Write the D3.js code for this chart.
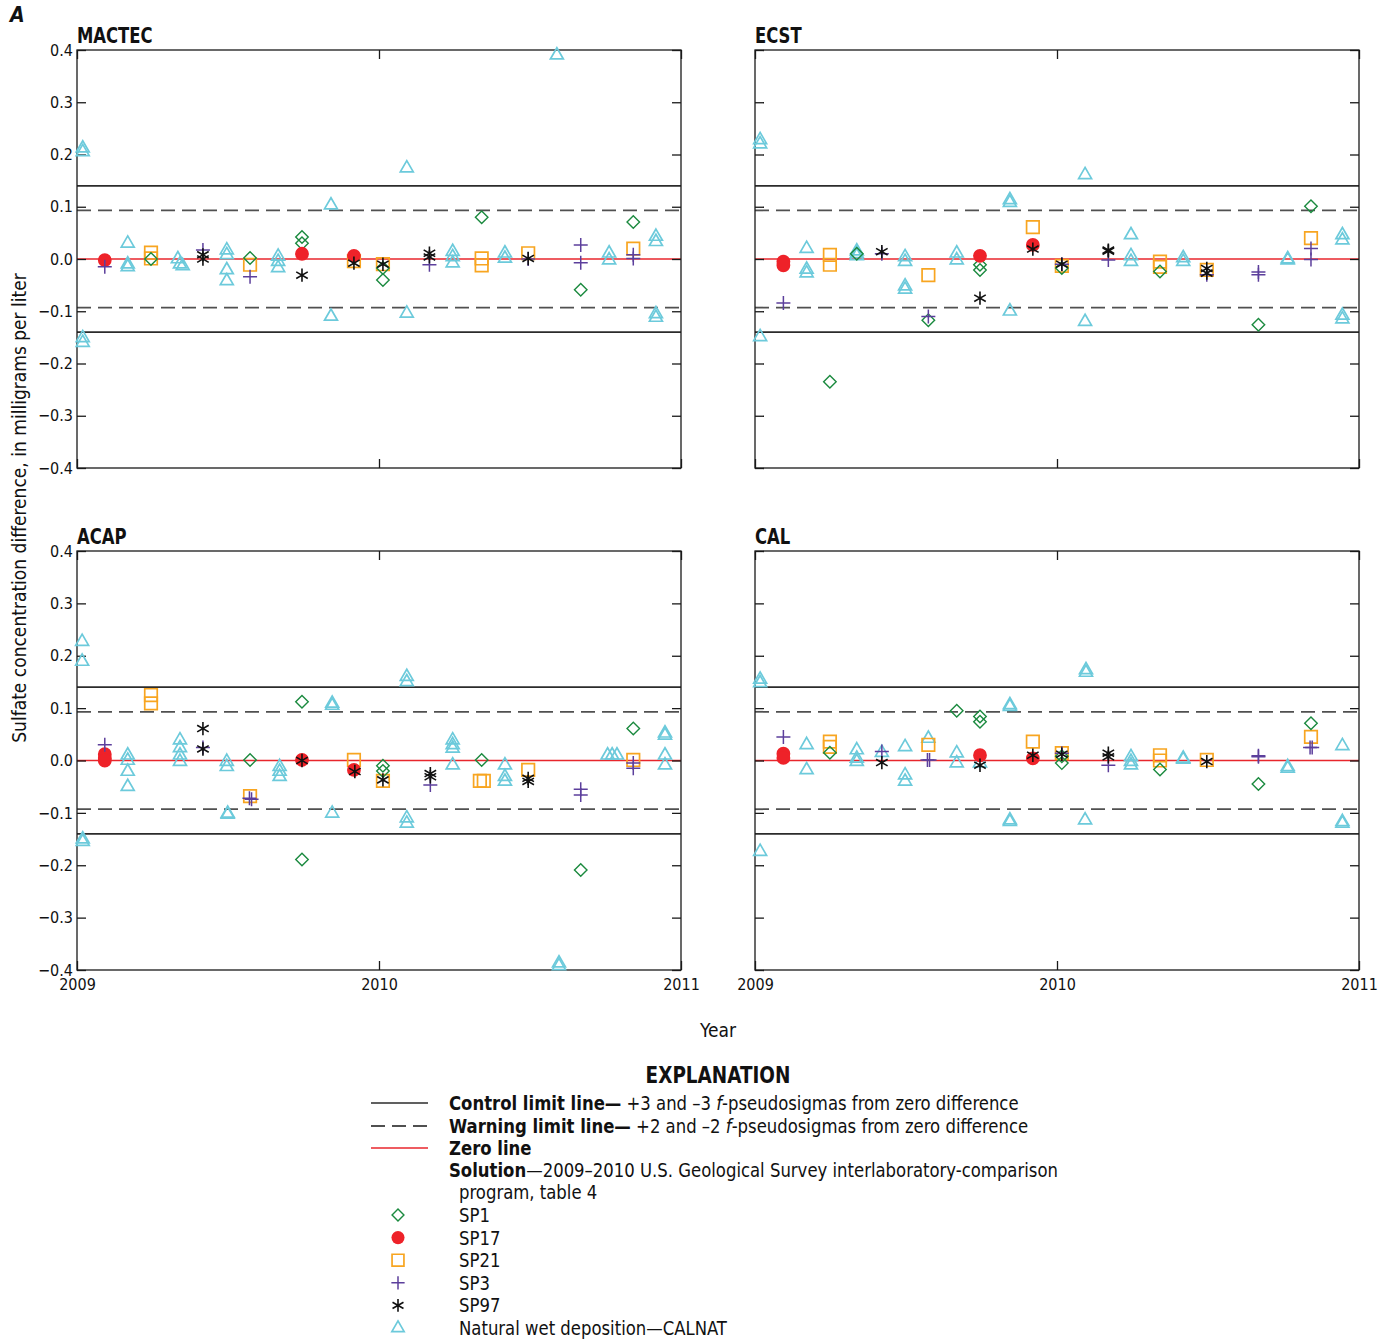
<!DOCTYPE html>
<html><head><meta charset="utf-8">
<script src="https://cdn.jsdelivr.net/npm/d3@7"></script>
<style>body{margin:0;background:#fff}svg{display:block}</style>
</head><body><svg id="c" width="1389" height="1342"></svg>
<script>
// ---------------- DATA ----------------
const panelNames = ["MACTEC", "ECST", "ACAP", "CAL"];
const xTickValues = [2009, 2010, 2011];
const yTickValues = [-0.4, -0.3, -0.2, -0.1, 0, 0.1, 0.2, 0.3, 0.4];
const controlLimit = 0.14;
const warningLimit = 0.093;
const seriesNames = ["SP1", "SP17", "SP21", "SP3", "SP97", "CALNAT"];
const legendLabels = ["SP1", "SP17", "SP21", "SP3", "SP97", "Natural wet deposition\u2014CALNAT"];

// each series: [MACTEC, ECST, ACAP, CAL] lists of [decimal year, difference]
const SP1 = [
  [[2009.245,0.0],[2009.573,0.002],[2009.745,0.042],[2009.745,0.03],[2010.013,-0.017],[2010.013,-0.04],[2010.34,0.08],[2010.668,-0.059],[2010.842,0.071]],
  [[2009.248,-0.235],[2009.337,0.01],[2009.574,-0.117],[2009.745,-0.011],[2009.745,-0.021],[2010.016,-0.017],[2010.341,-0.024],[2010.667,-0.126],[2010.841,0.101]],
  [[2009.573,0.001],[2009.745,0.112],[2009.745,-0.189],[2010.013,-0.01],[2010.013,-0.02],[2010.34,0.001],[2010.668,-0.209],[2010.842,0.061]],
  [[2009.248,0.015],[2009.668,0.095],[2009.745,0.084],[2009.745,0.074],[2010.016,-0.005],[2010.016,0.008],[2010.341,-0.017],[2010.667,-0.045],[2010.841,0.071]]
];
const SP17 = [
  [[2009.092,-0.002],[2009.745,0.01],[2009.917,0.006]],
  [[2009.094,-0.005],[2009.094,-0.012],[2009.745,0.006],[2009.92,0.027]],
  [[2009.092,0.012],[2009.092,0.005],[2009.092,0.0],[2009.745,0.001],[2009.917,-0.018]],
  [[2009.094,0.013],[2009.094,0.005],[2009.745,0.01],[2009.92,0.004]]
];
const SP21 = [
  [[2009.245,0.012],[2009.245,0.001],[2009.573,-0.011],[2009.917,-0.004],[2010.013,-0.01],[2010.34,0.001],[2010.34,-0.012],[2010.494,0.011],[2010.842,0.02]],
  [[2009.248,0.008],[2009.248,-0.011],[2009.574,-0.031],[2009.92,0.061],[2010.016,-0.013],[2010.341,-0.005],[2010.341,-0.015],[2010.496,-0.021],[2010.841,0.04]],
  [[2009.245,0.125],[2009.245,0.109],[2009.573,-0.068],[2009.917,0.001],[2010.013,-0.039],[2010.334,-0.039],[2010.347,-0.039],[2010.494,-0.018],[2010.842,0.001]],
  [[2009.248,0.036],[2009.248,0.026],[2009.574,0.03],[2009.92,0.036],[2010.016,0.014],[2010.341,0.01],[2010.341,0.0],[2010.496,0.001],[2010.841,0.045]]
];
const SP3 = [
  [[2009.092,-0.015],[2009.417,0.017],[2009.573,-0.034],[2010.167,-0.011],[2010.494,0.0],[2010.668,0.027],[2010.668,-0.007],[2010.842,0.008],[2010.842,0.001]],
  [[2009.094,-0.084],[2009.42,0.01],[2009.574,-0.11],[2010.016,-0.01],[2010.17,-0.002],[2010.496,-0.03],[2010.667,-0.025],[2010.667,-0.03],[2010.841,0.02],[2010.841,-0.001]],
  [[2009.092,0.03],[2009.417,0.025],[2009.571,-0.072],[2009.578,-0.074],[2010.17,-0.047],[2010.668,-0.055],[2010.668,-0.066],[2010.842,-0.005],[2010.842,-0.015]],
  [[2009.094,0.045],[2009.42,0.017],[2009.571,0.001],[2009.578,0.001],[2010.016,0.014],[2010.17,-0.009],[2010.667,0.009],[2010.667,0.007],[2010.838,0.025],[2010.845,0.025]]
];
const SP97 = [
  [[2009.417,0.008],[2009.417,0.0],[2009.745,-0.031],[2009.917,-0.008],[2010.013,-0.01],[2010.167,0.011],[2010.167,0.004],[2010.494,0.001]],
  [[2009.42,0.014],[2009.745,-0.075],[2009.92,0.019],[2010.016,-0.01],[2010.17,0.017],[2010.17,0.015],[2010.496,-0.018],[2010.496,-0.027]],
  [[2009.417,0.061],[2009.417,0.022],[2009.745,0.0],[2009.92,-0.021],[2010.013,-0.037],[2010.17,-0.025],[2010.17,-0.031],[2010.494,-0.034],[2010.494,-0.04]],
  [[2009.42,-0.004],[2009.745,-0.009],[2009.92,0.01],[2010.016,0.012],[2010.17,0.014],[2010.17,0.007],[2010.496,-0.002]]
];
const CALNAT = [
  [[2009.019,0.212],[2009.019,0.205],[2009.019,-0.151],[2009.019,-0.16],[2009.168,0.03],[2009.168,-0.01],[2009.168,-0.015],[2009.334,0.0],[2009.341,-0.01],[2009.35,-0.013],[2009.496,0.017],[2009.496,0.008],[2009.496,-0.021],[2009.496,-0.042],[2009.666,0.005],[2009.666,-0.005],[2009.666,-0.017],[2009.841,0.103],[2009.841,-0.11],[2010.092,0.174],[2010.092,-0.104],[2010.244,0.014],[2010.244,0.004],[2010.244,-0.008],[2010.417,0.011],[2010.417,0.001],[2010.589,0.39],[2010.762,0.011],[2010.762,-0.002],[2010.917,0.043],[2010.917,0.033],[2010.917,-0.105],[2010.917,-0.112]],
  [[2009.017,0.228],[2009.017,0.22],[2009.017,-0.149],[2009.171,0.02],[2009.171,-0.02],[2009.171,-0.027],[2009.337,0.015],[2009.337,0.01],[2009.337,0.006],[2009.497,0.004],[2009.497,-0.005],[2009.497,-0.052],[2009.497,-0.058],[2009.668,0.011],[2009.668,-0.002],[2009.844,0.113],[2009.844,0.108],[2009.844,-0.1],[2010.093,0.161],[2010.093,-0.12],[2010.245,0.046],[2010.245,0.006],[2010.245,-0.005],[2010.418,0.002],[2010.418,-0.005],[2010.764,-0.002],[2010.764,0.0],[2010.945,0.046],[2010.945,0.036],[2010.945,-0.108],[2010.945,-0.115]],
  [[2009.017,0.227],[2009.017,0.189],[2009.019,-0.15],[2009.019,-0.155],[2009.168,0.01],[2009.168,0.0],[2009.168,-0.021],[2009.168,-0.05],[2009.341,0.039],[2009.341,0.024],[2009.341,0.01],[2009.341,-0.002],[2009.496,-0.002],[2009.496,-0.012],[2009.499,-0.101],[2009.499,-0.103],[2009.671,-0.012],[2009.671,-0.021],[2009.671,-0.031],[2009.845,0.109],[2009.845,0.105],[2009.845,-0.101],[2010.092,0.16],[2010.092,0.15],[2010.092,-0.11],[2010.092,-0.12],[2010.244,0.039],[2010.244,0.03],[2010.244,0.023],[2010.244,-0.009],[2010.417,-0.009],[2010.417,-0.031],[2010.417,-0.04],[2010.596,-0.387],[2010.596,-0.392],[2010.757,0.01],[2010.772,0.01],[2010.788,0.01],[2010.947,0.052],[2010.947,0.048],[2010.947,0.01],[2010.947,-0.009]],
  [[2009.017,0.155],[2009.017,0.148],[2009.017,-0.174],[2009.171,0.03],[2009.171,-0.018],[2009.337,0.02],[2009.337,0.004],[2009.337,-0.002],[2009.42,0.015],[2009.497,0.026],[2009.497,-0.028],[2009.497,-0.04],[2009.574,0.042],[2009.668,0.014],[2009.668,-0.005],[2009.745,-0.005],[2009.844,0.106],[2009.844,0.103],[2009.844,-0.114],[2009.844,-0.117],[2010.096,0.173],[2010.096,0.168],[2010.093,-0.114],[2010.245,0.007],[2010.245,-0.002],[2010.245,-0.009],[2010.418,0.004],[2010.418,0.002],[2010.764,-0.012],[2010.764,-0.015],[2010.945,0.028],[2010.945,-0.117],[2010.945,-0.12]]
];
const seriesData = {SP1, SP17, SP21, SP3, SP97, CALNAT};

// ---------------- STYLE ----------------
const FONT = "'Liberation Sans Narrow','Arial Narrow','DejaVu Sans Condensed',sans-serif";
const styles = {
  SP1:    {type: d3.symbolDiamond2, size: 100, stroke: "#1b8a3f", fill: "none", sw: 1.4},
  SP17:   {type: d3.symbolCircle,   size: 150, stroke: "none",    fill: "#ee2229", sw: 0},
  SP21:   {type: d3.symbolSquare2,  size: 200, stroke: "#f8a520", fill: "none", sw: 1.7},
  SP3:    {type: d3.symbolPlus,     size: 66,  stroke: "#5c3f9c", fill: "none", sw: 1.5},
  SP97:   {type: d3.symbolAsterisk, size: 125, stroke: "#111",    fill: "none", sw: 1.6},
  CALNAT: {type: d3.symbolTriangle2,size: 120, stroke: "#6ccadb", fill: "none", sw: 1.7}
};
const drawOrder = ["CALNAT", "SP21", "SP1", "SP17", "SP3", "SP97"];

const panels = [
  {x0: 77,  x1: 681,  y0: 50,  y1: 468, yLabels: true,  xLabels: false},
  {x0: 755, x1: 1359, y0: 50,  y1: 468, yLabels: false, xLabels: false},
  {x0: 77,  x1: 681,  y0: 551, y1: 970, yLabels: true,  xLabels: true},
  {x0: 755, x1: 1359, y0: 551, y1: 970, yLabels: false, xLabels: true}
];

const svg = d3.select("#c");
svg.append("rect").attr("width", 1389).attr("height", 1342).attr("fill", "#fff");

// horizontally condensed text helper (mimics a narrow typeface)
function ntext(parent, x, y, sx, size) {
  return parent.append("text").attr("transform", `translate(${x},${y}) scale(${sx},1)`)
    .attr("font-family", FONT).attr("font-size", size).attr("fill", "#111");
}

panels.forEach((p, i) => {
  const x = d3.scaleLinear().domain([2009, 2011]).range([p.x0, p.x1]);
  const y = d3.scaleLinear().domain([-0.4, 0.4]).range([p.y1, p.y0]);
  const g = svg.append("g");

  [controlLimit, -controlLimit].forEach(v => g.append("line")
    .attr("x1", p.x0).attr("x2", p.x1).attr("y1", y(v)).attr("y2", y(v))
    .attr("stroke", "#2b2b2b").attr("stroke-width", 1.8));
  [warningLimit, -warningLimit].forEach(v => g.append("line")
    .attr("x1", p.x0).attr("x2", p.x1).attr("y1", y(v)).attr("y2", y(v))
    .attr("stroke", "#505050").attr("stroke-width", 1.8).attr("stroke-dasharray", "14,7"));
  g.append("line").attr("x1", p.x0).attr("x2", p.x1).attr("y1", y(0)).attr("y2", y(0))
    .attr("stroke", "#e8262c").attr("stroke-width", 1.4);

  g.append("rect").attr("x", p.x0).attr("y", p.y0).attr("width", p.x1 - p.x0).attr("height", p.y1 - p.y0)
    .attr("fill", "none").attr("stroke", "#1a1a1a").attr("stroke-width", 1.3);

  const fmt = d3.format(".1f");
  const left = d3.axisLeft(y).tickValues(yTickValues).tickSizeInner(-9).tickSizeOuter(0).tickPadding(4)
    .tickFormat(p.yLabels ? fmt : () => "");
  const right = d3.axisRight(y).tickValues(yTickValues).tickSizeInner(-9).tickSizeOuter(0).tickFormat(() => "");
  const bottom = d3.axisBottom(x).tickValues(xTickValues).tickSizeInner(-9).tickSizeOuter(0).tickPadding(9)
    .tickFormat(p.xLabels ? d3.format("d") : () => "");
  const top = d3.axisTop(x).tickValues(xTickValues).tickSizeInner(-9).tickSizeOuter(0).tickFormat(() => "");
  [[left, `translate(${p.x0},0)`], [right, `translate(${p.x1},0)`],
   [bottom, `translate(0,${p.y1})`], [top, `translate(0,${p.y0})`]].forEach(([ax, tr]) => {
    const a = g.append("g").attr("transform", tr).call(ax);
    a.select(".domain").remove();
    a.selectAll("line").attr("stroke", "#1a1a1a").attr("stroke-width", 1.3);
    a.selectAll("text").attr("font-family", FONT).attr("font-size", 16).attr("fill", "#111");
  });

  ntext(g, p.x0, p.y0 - 7, 0.87, 21).attr("font-weight", "bold").text(panelNames[i]);

  drawOrder.forEach(name => {
    const st = styles[name];
    const sym = d3.symbol().type(st.type).size(st.size);
    g.append("g").selectAll("path").data(seriesData[name][i]).join("path")
      .attr("d", sym)
      .attr("transform", d => `translate(${x(d[0])},${y(d[1])})`)
      .attr("fill", st.fill).attr("stroke", st.stroke).attr("stroke-width", st.sw);
  });
});

ntext(svg, 10, 22, 1, 21).attr("font-weight", "bold").attr("font-style", "italic").text("A");

svg.append("text").attr("transform", "translate(26,508) rotate(-90)").attr("text-anchor", "middle")
  .attr("font-family", FONT).attr("font-size", 19).attr("fill", "#111")
  .text("Sulfate concentration difference, in milligrams per liter");
svg.append("text").attr("x", 718).attr("y", 1037).attr("text-anchor", "middle")
  .attr("font-family", FONT).attr("font-size", 19).attr("fill", "#111").text("Year");

// ---------------- LEGEND ----------------
const lg = svg.append("g");
ntext(lg, 718, 1083, 0.89, 23).attr("text-anchor", "middle").attr("font-weight", "bold").text("EXPLANATION");

const LS = 19, SX = 0.965;
const lineRows = [
  {y: 1103, stroke: "#2b2b2b", dash: null, bold: "Control limit line\u2014", rest: [" +3 and \u20133 ", "f", "-pseudosigmas from zero difference"]},
  {y: 1126, stroke: "#505050", dash: "14,7", bold: "Warning limit line\u2014", rest: [" +2 and \u20132 ", "f", "-pseudosigmas from zero difference"]},
  {y: 1148, stroke: "#e8262c", dash: null, bold: "Zero line", rest: []}
];
lineRows.forEach(r => {
  lg.append("line").attr("x1", 371).attr("x2", 428).attr("y1", r.y).attr("y2", r.y)
    .attr("stroke", r.stroke).attr("stroke-width", r.dash ? 1.8 : 1.5).attr("stroke-dasharray", r.dash);
  const t = ntext(lg, 449, r.y + 7, SX, LS);
  t.append("tspan").attr("font-weight", "bold").text(r.bold);
  r.rest.forEach((s, k) => t.append("tspan").attr("font-style", k === 1 ? "italic" : null).text(s));
});
const sol = ntext(lg, 449, 1177, SX, LS);
sol.append("tspan").attr("font-weight", "bold").text("Solution");
sol.append("tspan").text("\u20142009\u20132010 U.S. Geological Survey interlaboratory-comparison");
ntext(lg, 459, 1199, SX, LS).text("program, table 4");

seriesNames.forEach((name, k) => {
  const yy = 1215 + k * 22.6;
  const st = styles[name];
  lg.append("path").attr("d", d3.symbol().type(st.type).size(st.size * 0.9)())
    .attr("transform", `translate(398,${yy})`)
    .attr("fill", st.fill).attr("stroke", st.stroke).attr("stroke-width", st.sw);
  ntext(lg, 459, yy + 7, SX, LS).text(legendLabels[k]);
});
</script>
</body></html>
